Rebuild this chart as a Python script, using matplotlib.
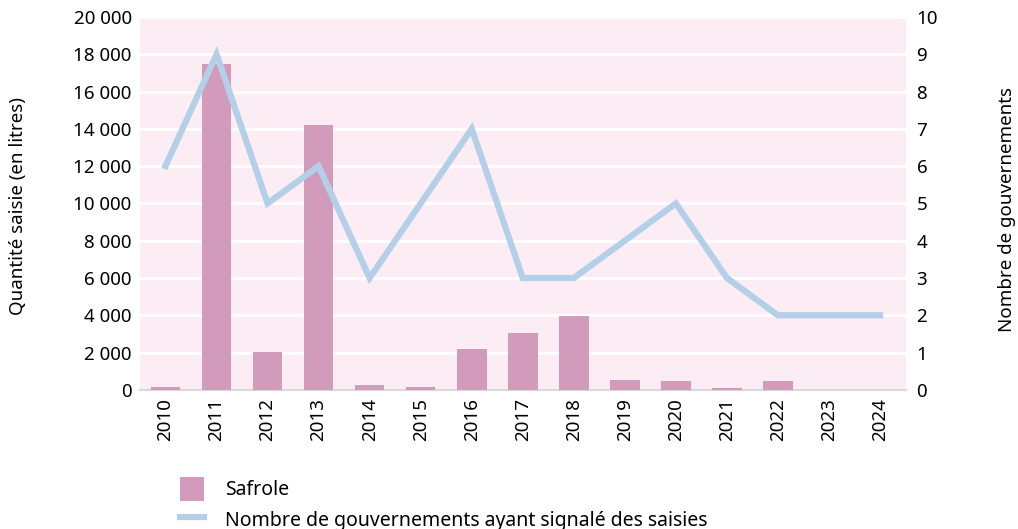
import matplotlib
matplotlib.use("Agg")
import matplotlib.pyplot as plt
import numpy as np
from matplotlib.patches import Patch
from matplotlib.lines import Line2D

years = ["2010", "2011", "2012", "2013", "2014", "2015", "2016", "2017",
         "2018", "2019", "2020", "2021", "2022", "2023", "2024"]
safrole = [180, 17500, 2050, 14200, 250, 130, 2200, 3050, 3950, 550, 480, 80, 480, 20, 20]
governments = [6, 9, 5, 6, 3, 5, 7, 3, 3, 4, 5, 3, 2, 2, 2]

left_ticks = list(range(0, 20001, 2000))
left_labels = [f"{v:,}".replace(",", " ") for v in left_ticks]
right_ticks = list(range(0, 11))

plt.rcParams['font.family'] = ['Noto Sans', 'DejaVu Sans']
FS = 13.5

fig = plt.figure(figsize=(10.18, 5.29), dpi=100)
ax = fig.add_axes([0.1375, 0.263, 0.752, 0.705])
ax.set_facecolor("#fcedf5")
x = np.arange(len(years))
ax.bar(x, safrole, width=0.58, color="#d29bbb", zorder=3)
ax.set_ylim(0, 20000)
ax.set_xlim(-0.5, len(years) - 0.5)
ax.set_yticks(left_ticks)
ax.set_yticklabels(left_labels, fontsize=FS)
ax.yaxis.grid(True, color="white", linewidth=2, zorder=1)
ax.set_axisbelow(True)
ax.set_xticks(x)
ax.set_xticklabels(years, rotation=90, fontsize=FS)
for s in ["top", "right", "left"]:
    ax.spines[s].set_visible(False)
ax.spines["bottom"].set_color("#d9d9d9")
ax.spines["bottom"].set_linewidth(1.5)
ax.tick_params(axis="both", length=0, pad=6)

ax2 = ax.twinx()
ax2.plot(x, governments, color="#b3d0e8", linewidth=4.5, zorder=4,
         solid_joinstyle="miter")
ax2.set_ylim(0, 10)
ax2.set_yticks(right_ticks)
ax2.set_yticklabels([str(t) for t in right_ticks], fontsize=FS)
for s in ["top", "right", "left", "bottom"]:
    ax2.spines[s].set_visible(False)
ax2.tick_params(axis="y", length=0, pad=8)

fig.text(18 / 1018, 1 - 206 / 529, "Quantité saisie (en litres)", rotation=90,
         ha="center", va="center", fontsize=FS)
fig.text(1007 / 1018, 1 - 210 / 529, "Nombre de gouvernements", rotation=90,
         ha="center", va="center", fontsize=FS)

handles = [Patch(facecolor="#d29bbb", edgecolor="none"),
           Line2D([0], [0], color="#b3d0e8", linewidth=4.5)]
fig.legend(handles, ["Safrole", "Nombre de gouvernements ayant signalé des saisies"],
           loc="upper left", bbox_to_anchor=(0.177, 0.098), frameon=False,
           fontsize=14, handlelength=1.2, handleheight=1.5, labelspacing=0.35,
           handletextpad=1.1, borderaxespad=0, borderpad=0)

fig.savefig("out.png", dpi=100)
